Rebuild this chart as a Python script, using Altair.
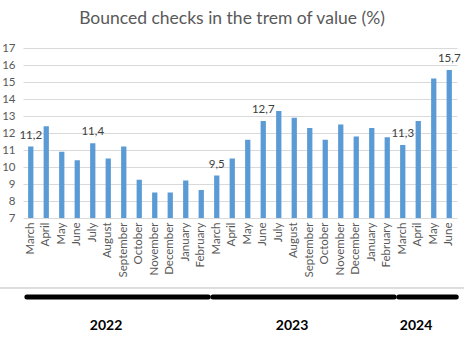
import altair as alt
import pandas as pd

months = ["March", "April", "May", "June", "July", "August", "September",
          "October", "November", "December", "January", "February",
          "March", "April", "May", "June", "July", "August", "September",
          "October", "November", "December", "January", "February",
          "March", "April", "May", "June"]
years = ["2022"] * 12 + ["2023"] * 12 + ["2024"] * 4
values = [11.2, 12.4, 10.9, 10.4, 11.4, 10.5, 11.2, 9.25, 8.5, 8.5, 9.2, 8.65,
          9.5, 10.5, 11.6, 12.7, 13.3, 12.9, 12.3, 11.6, 12.5, 11.8, 12.3, 11.75,
          11.3, 12.7, 15.2, 15.7]
labeled = [0, 4, 12, 15, 24, 27]
year_names = ["2022", "2023", "2024"]
y_ticks = [7, 8, 9, 10, 11, 12, 13, 14, 15, 16, 17]

keys = [f"{i:02d}|{m}" for i, m in enumerate(months)]
df = pd.DataFrame({"key": keys, "value": values, "year": years,
                   "show": [i in labeled for i in range(len(values))]})

# year groups from the data
yr = []
for y in year_names:
    idx = [i for i, v in enumerate(years) if v == y]
    yr.append({"year": y, "start": idx[0] + 0.25, "end": idx[-1] + 0.95,
               "mid": (idx[0] + idx[-1] + 1) / 2})
ydf = pd.DataFrame(yr)

FONT = "Lato"
GRAY = "#595959"

x = alt.X("key:N", sort=keys, title=None,
          scale=alt.Scale(paddingInner=0.66, paddingOuter=0.33),
          axis=alt.Axis(labelExpr="split(datum.value,'|')[1]", labelAngle=-90,
                        labelAlign="right", labelBaseline="middle",
                        labelFontSize=11.5, labelColor=GRAY, labelFont=FONT,
                        ticks=False, domain=False, labelPadding=4,
                        labelOverlap=False))
y = alt.Y("value:Q", title=None,
          scale=alt.Scale(domain=[y_ticks[0], y_ticks[-1]], nice=False, zero=False),
          axis=alt.Axis(values=y_ticks, labelFontSize=11.5,
                        labelColor=GRAY, labelFont=FONT, ticks=False,
                        domain=False, gridColor="#d9d9d9", labelPadding=8,
                        labelOverlap=False))

bars = alt.Chart(df).mark_bar(color="#5B9BD5", clip=True).encode(x=x, y=y)

text = alt.Chart(df).transform_filter("datum.show").transform_calculate(
    lbl="replace(format(datum.value,'.1f'),'.',',')"
).mark_text(font=FONT, fontSize=11.5, color="#404040", baseline="bottom", dy=-6).encode(
    x=x, y=y, text="lbl:N")

main = alt.layer(bars, text)

xs = alt.Scale(domain=[0, 28], nice=False, zero=False)
sep = alt.Chart(ydf).mark_rule(color="#d9d9d9", strokeWidth=1).encode(
    x=alt.value(-23), x2=alt.value(441), y=alt.value(240))
seg = alt.Chart(ydf).mark_rule(color="black", strokeWidth=5, strokeCap="round").encode(
    x=alt.X("start:Q", scale=xs, axis=None), x2="end:Q", y=alt.value(249))
ylab = alt.Chart(ydf).mark_text(font=FONT, fontSize=14, fontWeight="bold",
                                color="black", baseline="middle", dx=-10).encode(
    x=alt.X("mid:Q", scale=xs, axis=None), y=alt.value(278), text="year:N")
deco = alt.layer(sep, seg, ylab)

chart = alt.layer(main, deco).resolve_scale(x="independent").properties(
    width=434, height=170,
    autosize=alt.AutoSizeParams(type="none"),
    padding={"left": 23, "top": 48, "right": 7, "bottom": 130},
    title=alt.TitleParams("Bounced checks in the trem of value (%)", font=FONT,
                          fontSize=17.5, fontWeight="normal", color=GRAY,
                          anchor="middle", dx=-8, offset=15),
).configure_view(stroke=None)

chart.save("out.html", embed_options={"renderer": "svg", "actions": False})
